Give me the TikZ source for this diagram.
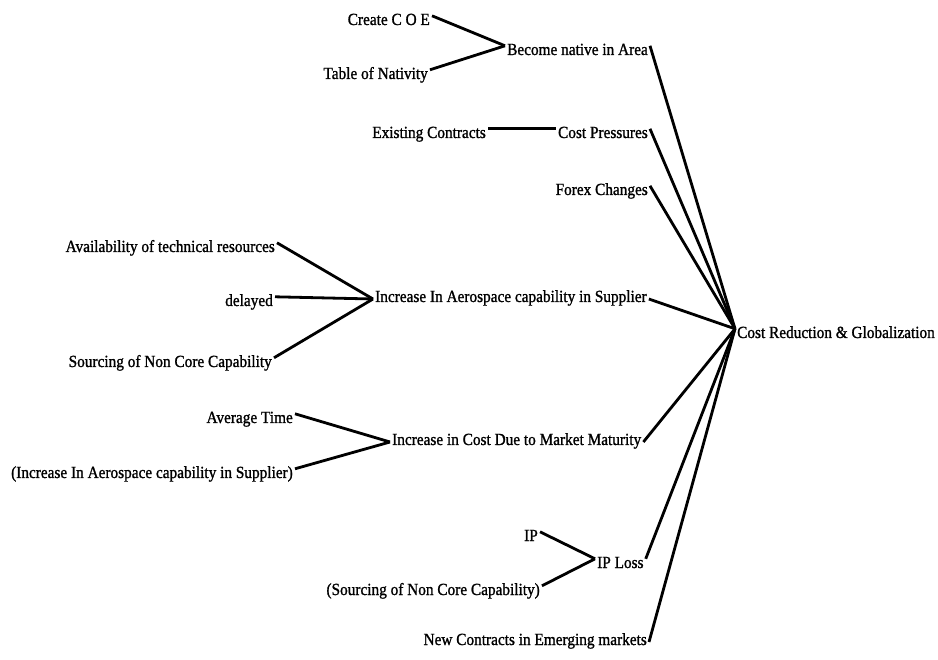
\documentclass[tikz,border=0pt]{standalone}
\usepackage{fontspec}
\setmainfont{Liberation Serif}
% slightly narrowed, heavier face for the concept labels
\newfontfamily\conceptfont{Liberation Serif}[FakeStretch=0.9, FakeBold=1.2]
\begin{document}
\begin{tikzpicture}[x=1pt,y=-1pt,
  lbl/.style={inner xsep=2pt, inner ysep=0pt, text height=9pt, text depth=3pt,
              font=\conceptfont\fontsize{17}{20}\selectfont},
  link/.style={line width=2.8pt}]
\useasboundingbox (0,0) rectangle (938,660);

% central concept
\node[lbl, anchor=base west] (hub) at (735,338) {Cost Reduction \& Globalization};

% first-level concepts
\node[lbl, anchor=base east] (become)   at (650,55)  {Become native in Area};
\node[lbl, anchor=base east] (cp)       at (650,138) {Cost Pressures};
\node[lbl, anchor=base east] (forex)    at (650,195) {Forex Changes};
\node[lbl, anchor=base west] (aero)     at (373,302) {Increase In Aerospace capability in Supplier};
\node[lbl, anchor=base west] (maturity) at (390,445) {Increase in Cost Due to Market Maturity};
\node[lbl, anchor=base west] (iploss)   at (595,568) {IP Loss};
\node[lbl, anchor=base east] (newc)     at (649,645) {New Contracts in Emerging markets};

% second-level concepts
\node[lbl, anchor=base east] (coe)       at (432,25)  {Create C O E};
\node[lbl, anchor=base east] (nativity)  at (430,79)  {Table of Nativity};
\node[lbl, anchor=base east] (existing)  at (488,138) {Existing Contracts};
\node[lbl, anchor=base east] (avail)     at (277,252) {Availability of technical resources};
\node[lbl, anchor=base east] (delayed)   at (275,306) {delayed};
\node[lbl, anchor=base east] (sourcing)  at (274,367) {Sourcing of Non Core Capability};
\node[lbl, anchor=base east] (average)   at (295,423) {Average Time};
\node[lbl, anchor=base east] (aeroref)   at (295,478) {(Increase In Aerospace capability in Supplier)};
\node[lbl, anchor=base east] (ip)        at (540,541) {IP};
\node[lbl, anchor=base east] (sourceref) at (542,595) {(Sourcing of Non Core Capability)};

% links into the first-level concepts
\draw[link] (coe.north east) -- (become.north west);
\draw[link] (nativity.north east) -- (become.north west);
\draw[link] (existing.north east) -- (cp.north west);
\draw[link] (avail.north east) -- (aero.west);
\draw[link] (delayed.north east) -- (aero.west);
\draw[link] (sourcing.north east) -- (aero.west);
\draw[link] (average.north east) -- (maturity.west);
\draw[link] (aeroref.north east) -- (maturity.west);
\draw[link] (ip.north east) -- (iploss.north west);
\draw[link] (sourceref.north east) -- (iploss.north west);

% links into the central concept
\draw[link] (become.north east) -- (hub.north west);
\draw[link] (cp.north east) -- (hub.north west);
\draw[link] (forex.north east) -- (hub.north west);
\draw[link] (aero.east) -- (hub.north west);
\draw[link] (maturity.east) -- (hub.north west);
\draw[link] (iploss.north east) -- (hub.north west);
\draw[link] (newc.east) -- (hub.north west);
\end{tikzpicture}
\end{document}
